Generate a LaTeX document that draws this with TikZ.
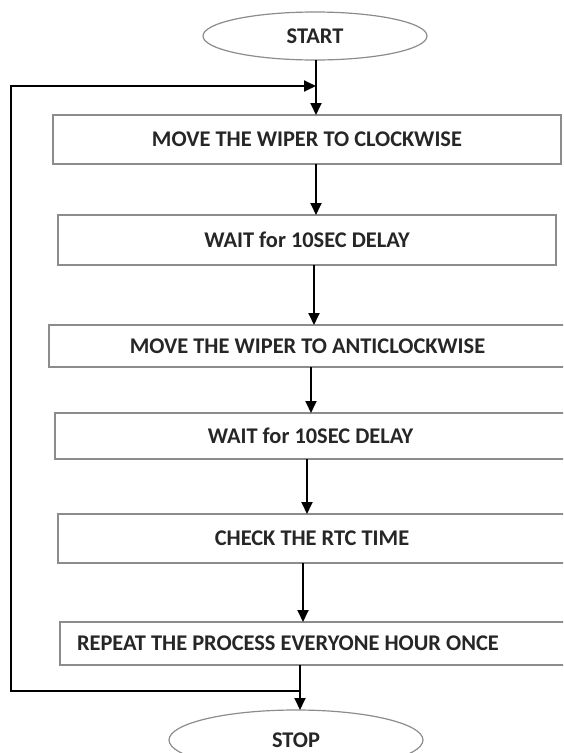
\documentclass[tikz,border=0pt]{standalone}
\usepackage{fontspec}
\setmainfont{Carlito}
\usepackage{tikz}
\usetikzlibrary{positioning,shapes.geometric,arrows.meta}

\begin{document}
\begin{tikzpicture}[
    x=1pt, y=1pt,
    node distance=50pt,  % base gap between the blocks
    font=\bfseries\fontsize{22.4}{26}\selectfont,
    text=black!85,
    term/.style = {draw=black!45, line width=1.2pt, ellipse, outer sep=0pt},
    stepbox/.style = {draw=black!45, line width=1.2pt, rectangle, inner sep=0pt, outer sep=0pt},
    flow/.style = {-{Triangle[length=12pt,width=11pt]}, line width=1.8pt}
  ]
    \useasboundingbox (0,0) rectangle (563,-753);
    \clip (0,0) rectangle (563,-753);

    \node[term, minimum width=224pt, minimum height=48pt] (start) at (315,-36) {START};
    \node[stepbox, minimum width=508pt, minimum height=49pt] (clockwise) [below=55pt of start, xshift=-8pt] {MOVE THE WIPER TO CLOCKWISE};
    \node[stepbox, minimum width=498pt, minimum height=50pt] (wait1) [below=51pt of clockwise] {WAIT for 10SEC DELAY};
    \node[stepbox, minimum width=517pt, minimum height=42pt] (anticlock) [below=60pt of wait1, xshift=0.5pt] {MOVE THE WIPER TO ANTICLOCKWISE};
    \node[stepbox, minimum width=511pt, minimum height=46pt] (wait2) [below=46pt of anticlock, xshift=3pt] {WAIT for 10SEC DELAY};
    \node[stepbox, minimum width=508pt, minimum height=49pt] (check) [below=55pt of wait2, xshift=1.5pt] {CHECK THE RTC TIME};
    \node[stepbox, inner xsep=17pt, text width=472pt, align=flush left, minimum height=43pt] (repeat) [below=59pt of check, xshift=1pt] {REPEAT THE PROCESS EVERYONE HOUR ONCE};  % text sits to the left
    \node[term, minimum width=254pt, minimum height=60pt] (stop) [below=45pt of repeat, xshift=-17pt] {STOP};

    \coordinate (join) at ([xshift=1pt, yshift=-26pt]start.south);
    \coordinate (turn) at ([xshift=-13pt, yshift=-26pt]repeat.south);

    \draw[flow] ([xshift=1pt]start.south) -- ([xshift=1pt]start.south |- clockwise.north);
    \draw[flow] ([xshift=9pt]clockwise.south) -- ([xshift=9pt]clockwise.south |- wait1.north);
    \draw[flow] ([xshift=7pt]wait1.south) -- ([xshift=7pt]wait1.south |- anticlock.north);
    \draw[flow] ([xshift=3.5pt]anticlock.south) -- ([xshift=3.5pt]anticlock.south |- wait2.north);
    \draw[flow] ([xshift=-3.5pt]wait2.south) -- ([xshift=-3.5pt]wait2.south |- check.north);
    \draw[flow] ([xshift=-9pt]check.south) -- ([xshift=-9pt]check.south |- repeat.north);
    \draw[flow] ([xshift=-13pt]repeat.south) -- ([xshift=-13pt]repeat.south |- stop.north);
    % way back to the top:
    \draw[flow] (turn) -- (turn -| 11,0) |- (join);
  \end{tikzpicture}
\end{document}
